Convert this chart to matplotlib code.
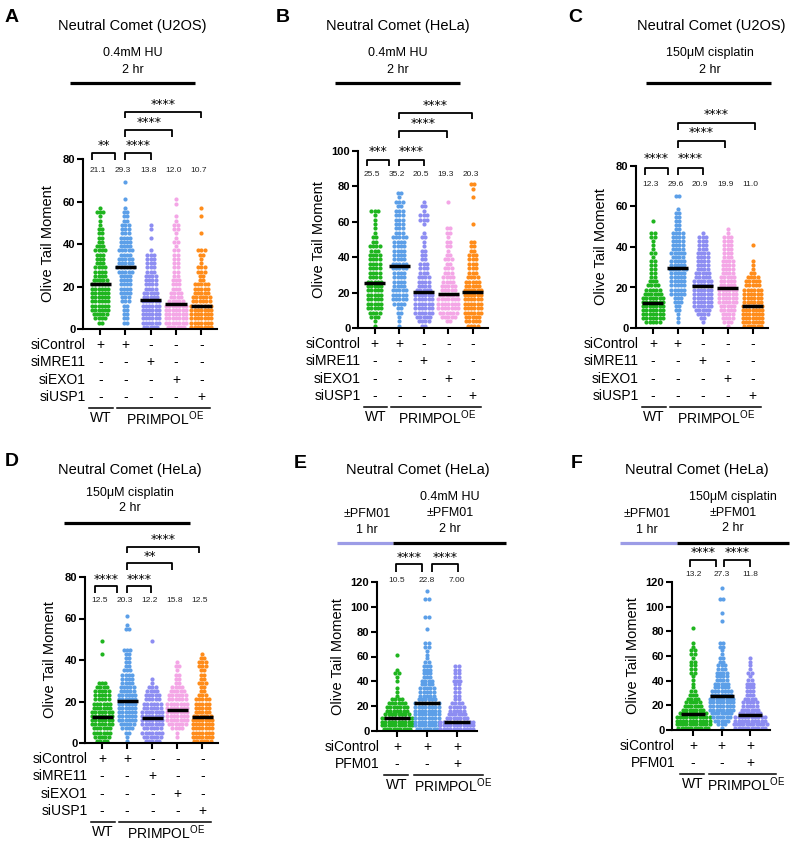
import matplotlib
matplotlib.use("Agg")
import matplotlib.pyplot as plt
import matplotlib.transforms as mtransforms
from matplotlib.lines import Line2D

plt.rcParams["font.family"] = ["Liberation Sans", "DejaVu Sans"]
plt.rcParams["mathtext.fontset"] = "custom"
plt.rcParams["mathtext.rm"] = "Liberation Sans"
plt.rcParams["mathtext.it"] = "Liberation Sans:italic"
plt.rcParams["mathtext.bf"] = "Liberation Sans:bold"

W, H = 792, 847

# ---------------- data ----------------
colors = ["#1fb51f", "#5c9fe8", "#8d8df2", "#f4a6e6", "#ff8c1a"]

si_rows = ["siControl", "siMRE11", "siEXO1", "siUSP1"]
si_signs = [["+", "+", "-", "-", "-"],
            ["-", "-", "+", "-", "-"],
            ["-", "-", "-", "+", "-"],
            ["-", "-", "-", "-", "+"]]
pfm_rows = ["siControl", "PFM01"]
pfm_signs = [["+", "+", "+"],
             ["-", "-", "+"]]

# number of cells per bin of olive tail moment, bins start at 0
# A: U2OS, 0.4mM HU (2-unit bins)
a_counts = [
    [0, 2, 4, 5, 6, 6, 6, 6, 6, 6, 6, 5, 4, 4, 4, 3, 3, 3, 4, 3, 2, 2, 2, 2, 1, 1, 1, 3, 1],
    [0, 2, 2, 2, 2, 2, 3, 3, 4, 4, 4, 4, 4, 5, 6, 5, 5, 4, 5, 4, 4, 4, 3, 3, 3, 2, 2, 2, 1, 0, 1, 0, 0, 0, 1],
    [5, 6, 6, 6, 6, 6, 6, 5, 5, 4, 4, 4, 4, 3, 3, 3, 3, 3, 1, 0, 0, 1, 0, 1, 1],
    [6, 7, 7, 7, 7, 7, 5, 4, 4, 3, 3, 3, 2, 2, 2, 2, 2, 2, 2, 1, 2, 1, 1, 2, 2, 1, 1, 0, 0, 1, 1],
    [7, 7, 7, 7, 7, 7, 6, 6, 5, 5, 5, 2, 2, 3, 3, 1, 1, 2, 3, 0, 0, 0, 1, 0, 0, 0, 1, 0, 1],
]
a_medians = [21.1, 29.3, 13.8, 12.0, 10.7]
a_sig = ["**", "****", "****", "****"]

# B: HeLa, 0.4mM HU (2.5-unit bins)
b_counts = [
    [1, 1, 3, 4, 5, 5, 5, 5, 5, 5, 5, 4, 4, 4, 4, 4, 4, 3, 4, 2, 2, 1, 1, 1, 1, 1, 3],
    [1, 1, 1, 2, 2, 4, 5, 5, 5, 4, 4, 4, 4, 5, 5, 4, 4, 4, 4, 4, 5, 3, 3, 3, 3, 3, 3, 2, 3, 1, 2],
    [2, 4, 5, 6, 6, 6, 6, 6, 5, 4, 4, 4, 3, 3, 3, 2, 2, 2, 1, 1, 2, 1, 0, 1, 3, 3, 1, 2, 1],
    [0, 2, 5, 6, 7, 7, 7, 6, 5, 5, 4, 4, 3, 3, 2, 3, 2, 1, 2, 2, 1, 2, 2, 0, 0, 0, 0, 0, 1],
    [4, 5, 5, 6, 6, 6, 6, 6, 6, 5, 5, 4, 3, 3, 3, 3, 3, 2, 2, 2, 0, 0, 0, 1, 0, 0, 0, 0, 0, 1, 0, 1, 2],
]
b_medians = [25.5, 35.2, 20.5, 19.3, 20.3]
b_sig = ["***", "****", "****", "****"]

# C: U2OS, 150uM cisplatin (2-unit bins)
c_counts = [
    [0, 5, 7, 7, 7, 7, 7, 7, 6, 5, 4, 3, 2, 2, 2, 2, 2, 1, 2, 1, 1, 1, 2, 2, 0, 0, 1],
    [0, 1, 1, 1, 2, 2, 3, 3, 5, 5, 5, 5, 5, 5, 6, 5, 5, 4, 5, 4, 4, 4, 4, 4, 2, 2, 2, 2, 2, 1, 0, 0, 2],
    [0, 1, 2, 4, 5, 6, 6, 6, 6, 6, 6, 6, 5, 5, 4, 4, 4, 4, 4, 3, 3, 3, 3, 1],
    [1, 3, 4, 4, 5, 5, 6, 6, 6, 6, 5, 5, 5, 4, 4, 4, 4, 3, 3, 3, 3, 3, 3, 1, 1],
    [6, 7, 7, 7, 7, 7, 6, 6, 6, 6, 5, 5, 4, 2, 1, 1, 1, 0, 0, 0, 1],
]
c_medians = [12.3, 29.6, 20.9, 19.9, 11.0]
c_sig = ["****", "****", "****", "****"]

# D: HeLa, 150uM cisplatin (2-unit bins)
d_counts = [
    [4, 5, 6, 6, 7, 7, 7, 7, 6, 6, 5, 5, 5, 4, 3, 0, 0, 0, 0, 0, 0, 1, 0, 0, 1],
    [1, 1, 2, 4, 5, 6, 6, 6, 6, 6, 6, 6, 5, 5, 4, 4, 4, 3, 2, 2, 2, 2, 3, 0, 0, 0, 0, 2, 1, 0, 1],
    [5, 6, 7, 6, 7, 7, 7, 7, 6, 6, 5, 5, 4, 3, 1, 1, 0, 0, 0, 0, 0, 0, 0, 0, 1],
    [0, 1, 1, 4, 6, 7, 7, 7, 7, 7, 6, 6, 5, 4, 2, 2, 2, 1, 2, 1],
    [6, 7, 7, 7, 7, 7, 6, 5, 5, 5, 5, 3, 2, 2, 3, 2, 2, 2, 3, 3, 2, 1],
]
d_medians = [12.5, 20.3, 12.2, 15.8, 12.5]
d_sig = ["****", "****", "**", "****"]

# E: HeLa, 0.4mM HU +/- PFM01 (3-unit bins)
e_counts = [
    [9, 10, 10, 10, 8, 7, 7, 6, 4, 1, 1, 1, 0, 1, 1, 2, 1, 0, 0, 0, 1],
    [7, 8, 8, 8, 8, 8, 8, 8, 6, 5, 5, 5, 4, 4, 3, 3, 3, 3, 2, 1, 1, 1, 2, 2, 0, 0, 0, 1, 0, 0, 2, 0, 0, 0, 0, 2, 0, 1],
    [11, 11, 11, 7, 6, 5, 5, 4, 2, 2, 2, 2, 2, 3, 2, 2, 2, 2],
]
e_medians = [10.5, 22.8, 7.00]
e_sig = ["****", "****"]

# F: HeLa, 150uM cisplatin +/- PFM01 (3-unit bins)
f_counts = [
    [10, 11, 11, 11, 9, 7, 6, 5, 4, 3, 2, 1, 1, 1, 1, 2, 2, 2, 2, 1, 2, 2, 1, 1, 0, 0, 0, 1],
    [1, 3, 5, 6, 7, 8, 8, 8, 8, 7, 7, 5, 5, 4, 4, 4, 3, 3, 2, 2, 1, 1, 2, 2, 0, 0, 0, 0, 0, 1, 0, 1, 0, 0, 0, 2, 0, 0, 1],
    [10, 11, 10, 10, 7, 6, 5, 5, 4, 3, 3, 3, 3, 2, 1, 2, 1, 1, 1, 1],
]
f_medians = [13.2, 27.3, 11.8]
f_sig = ["****", "****"]

# ---------------- layout ----------------
fig = plt.figure(figsize=(W / 100, H / 100), dpi=100)


def fx(x):
    return x / W


def fy(y):
    return 1 - y / H


def ftext(x, y, s, **kw):
    kw.setdefault("ha", "center")
    kw.setdefault("va", "center")
    fig.text(fx(x), fy(y), s, **kw)


def fline(x0, x1, y, color="black", lw=2.3):
    fig.add_artist(Line2D([fx(x0), fx(x1)], [fy(y), fy(y)], color=color,
                          lw=lw, solid_capstyle="butt"))


def panel(rect, xlim, ymax, bin_w, counts, medians, sig, brackets, lab_y,
          lab_off, rows, signs, wt, oe):
    left, top, right, bottom = rect
    ax = fig.add_axes([fx(left), fy(bottom), (right - left) / W, (bottom - top) / H])
    spacing = (right - left) / (xlim[1] - xlim[0])
    dx = 3.3 / spacing

    for gi, (cnts, med) in enumerate(zip(counts, medians)):
        xs, ys = [], []
        for bi, n in enumerate(cnts):
            for k in range(n):
                xs.append(gi + (k - (n - 1) / 2) * dx)
                ys.append((bi + 0.5) * bin_w)
        ax.scatter(xs, ys, s=9, color=colors[gi], linewidths=0, zorder=2, clip_on=False)
        ax.hlines(med, gi - 0.42, gi + 0.42, color="black", lw=2.5, zorder=3)
        ax.text(gi + lab_off, lab_y, f"{med:#.3g}", fontsize=6, ha="center",
                va="center", color="#222222", clip_on=False)

    ax.set_xlim(*xlim)
    ax.set_ylim(0, ymax)
    for s in ["top", "right"]:
        ax.spines[s].set_visible(False)
    for s in ["left", "bottom"]:
        ax.spines[s].set_linewidth(1.5)
    ax.set_yticks(range(0, ymax + 1, 20))
    ax.set_xticks(range(len(counts)))
    ax.set_xticklabels([])
    ax.tick_params(axis="both", direction="out", length=4, width=1.5,
                   labelsize=8, pad=1.5)
    for lbl in ax.get_yticklabels():
        lbl.set_fontweight("bold")

    # significance brackets
    for (bx0, bx1, ytop, yleg, yst), lab in zip(brackets, sig):
        ax.plot([bx0, bx0, bx1, bx1], [yleg, ytop, ytop, yleg], color="black",
                lw=1.3, clip_on=False, solid_capstyle="butt")
        ax.text((bx0 + bx1) / 2, yst, lab, ha="center", va="center",
                fontsize=9, family="DejaVu Sans", clip_on=False)

    # condition table
    tr = mtransforms.blended_transform_factory(ax.transData, fig.transFigure)
    for ri, (name, row) in enumerate(zip(rows, signs)):
        y = bottom + 16 + ri * 17.4
        ftext(left + 3, y, name, ha="right", fontsize=10)
        for gi, s in enumerate(row):
            ax.text(gi, fy(y), s, transform=tr, ha="center", va="center", fontsize=10)
    yl = bottom + 16 + (len(rows) - 1) * 17.4 + 11
    for (g0, g1, gt), label in zip([wt, oe], ["WT", "PRIMPOL$^{\\mathrm{OE}}$"]):
        ax.plot([g0, g1], [fy(yl), fy(yl)], transform=tr, color="black", lw=1.1,
                clip_on=False)
        ax.text(gt, fy(yl + 10), label, transform=tr, ha="center", va="center",
                fontsize=10)

    ftext(left - 35 if ymax < 100 else left - 39, (top + bottom) / 2,
          "Olive Tail Moment", rotation=90, fontsize=10.5)
    return ax


title_kw = dict(fontsize=10.5)
treat_kw = dict(fontsize=9)
letter_kw = dict(fontsize=14, fontweight="bold")

# A
ftext(12, 17, "A", **letter_kw)
ftext(132, 26, "Neutral Comet (U2OS)", **title_kw)
ftext(133, 53, "0.4mM HU", **treat_kw)
ftext(133, 70, "2 hr", **treat_kw)
fline(70, 195, 83)
panel((83, 159, 217, 329), (-0.68, 4.62), 80, 2, a_counts, a_medians, a_sig,
      [(-0.33, 0.6, 82.8, 79.5, 86.5), (1, 2, 82.8, 79.5, 86.5),
       (1, 2.85, 93.6, 90.4, 97.4), (1, 4, 102.1, 99.3, 105.8)],
      74.8, -0.1, si_rows, si_signs, (-0.44, 0.52, 0.04), (0.67, 4.33, 2.55))

# B
ftext(283, 17, "B", **letter_kw)
ftext(398, 26, "Neutral Comet (HeLa)", **title_kw)
ftext(398, 53, "0.4mM HU", **treat_kw)
ftext(398, 70, "2 hr", **treat_kw)
fline(335, 460, 83)
panel((358, 151, 488, 328), (-0.68, 4.62), 100, 2.5, b_counts, b_medians, b_sig,
      [(-0.33, 0.57, 94.9, 91.5, 99.6), (1, 2, 94.9, 91.5, 99.6),
       (1, 2.95, 111.3, 107.3, 115.4), (1, 3.95, 121.5, 118, 125.6)],
      87, -0.1, si_rows, si_signs, (-0.44, 0.52, 0.04), (0.67, 4.33, 2.55))

# C
ftext(575, 17, "C", **letter_kw)
ftext(711, 26, "Neutral Comet (U2OS)", **title_kw)
ftext(710, 53, "150\u03bcM cisplatin", **treat_kw)
ftext(710, 70, "2 hr", **treat_kw)
fline(646, 771, 83)
panel((636, 166, 768, 328), (-0.68, 4.62), 80, 2, c_counts, c_medians, c_sig,
      [(-0.32, 0.6, 79, 75.6, 83.9), (1, 2, 79, 75.6, 83.9),
       (1, 2.9, 92.3, 88.9, 96.3), (1, 4.1, 101.2, 97.8, 105.2)],
      70.8, -0.1, si_rows, si_signs, (-0.44, 0.52, 0.04), (0.67, 4.33, 2.55))

# D
ftext(12, 462, "D", **letter_kw)
ftext(130, 470, "Neutral Comet (HeLa)", **title_kw)
ftext(130, 493, "150\u03bcM cisplatin", **treat_kw)
ftext(130, 508, "2 hr", **treat_kw)
fline(64, 190, 523)
panel((85, 577, 218, 743), (-0.68, 4.62), 80, 2, d_counts, d_medians, d_sig,
      [(-0.28, 0.6, 75.7, 72.3, 79), (1, 1.96, 75.7, 72.3, 79),
       (1, 2.8, 86.7, 83.4, 90.1), (1, 3.85, 94.5, 91.6, 98.3)],
      68.9, -0.1, si_rows, si_signs, (-0.44, 0.52, 0.04), (0.67, 4.33, 2.55))

# E
ftext(300, 463, "E", **letter_kw)
ftext(418, 470, "Neutral Comet (HeLa)", **title_kw)
ftext(367, 514, "\u00b1PFM01", **treat_kw)
ftext(367, 530, "1 hr", **treat_kw)
ftext(450, 497, "0.4mM HU", **treat_kw)
ftext(450, 513, "\u00b1PFM01", **treat_kw)
ftext(450, 529, "2 hr", **treat_kw)
fline(337, 393, 543, color="#9c9ce6")
fline(393, 506, 543)
panel((377, 582, 477, 731), (-0.667, 2.667), 120, 3, e_counts, e_medians, e_sig,
      [(-0.03, 0.83, 134.5, 128, 140.0), (1.17, 2.03, 134.5, 128, 140.0)],
      121.6, 0, pfm_rows, pfm_signs, (-0.43, 0.37, 0), (0.57, 2.87, 1.87))

# F
ftext(577, 463, "F", **letter_kw)
ftext(697, 470, "Neutral Comet (HeLa)", **title_kw)
ftext(647, 514, "\u00b1PFM01", **treat_kw)
ftext(647, 530, "1 hr", **treat_kw)
ftext(733, 497, "150\u03bcM cisplatin", **treat_kw)
ftext(733, 513, "\u00b1PFM01", **treat_kw)
ftext(733, 528, "2 hr", **treat_kw)
fline(620, 677, 543, color="#9c9ce6")
fline(677, 789, 543)
panel((672, 582, 770, 730), (-0.74, 2.7), 120, 3, f_counts, f_medians, f_sig,
      [(-0.1, 0.8, 137.8, 132.2, 144.3), (1.1, 2.0, 137.8, 132.2, 144.3)],
      125.7, 0, pfm_rows, pfm_signs, (-0.45, 0.4, 0), (0.55, 2.9, 1.85))

fig.savefig("out.png", dpi=100)
